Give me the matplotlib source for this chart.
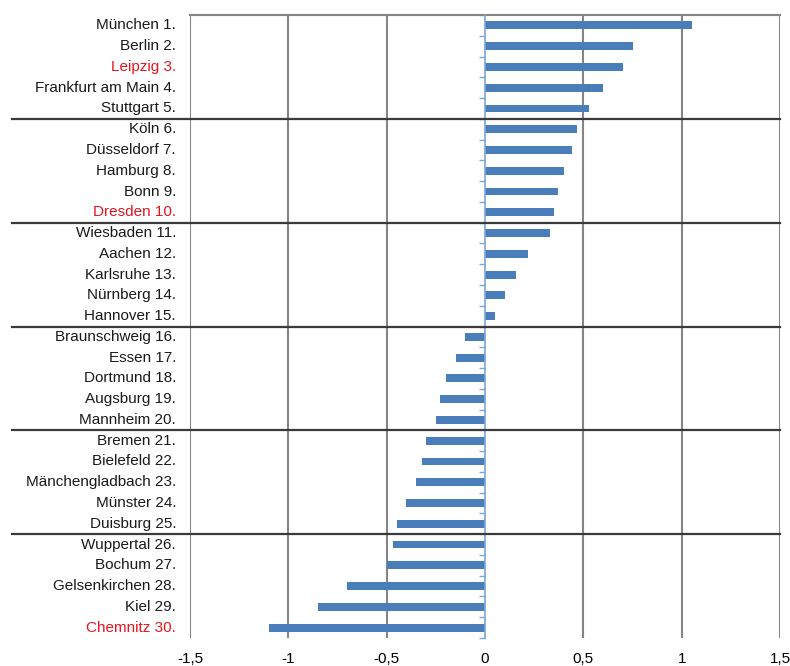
import numpy as np
import matplotlib
matplotlib.use("Agg")
import matplotlib.pyplot as plt

cities = ["München 1.", "Berlin 2.", "Leipzig 3.", "Frankfurt am Main 4.", "Stuttgart 5.",
          "Köln 6.", "Düsseldorf 7.", "Hamburg 8.", "Bonn 9.", "Dresden 10.",
          "Wiesbaden 11.", "Aachen 12.", "Karlsruhe 13.", "Nürnberg 14.", "Hannover 15.",
          "Braunschweig 16.", "Essen 17.", "Dortmund 18.", "Augsburg 19.", "Mannheim 20.",
          "Bremen 21.", "Bielefeld 22.", "Mänchengladbach 23.", "Münster 24.", "Duisburg 25.",
          "Wuppertal 26.", "Bochum 27.", "Gelsenkirchen 28.", "Kiel 29.", "Chemnitz 30."]
values = [1.05, 0.75, 0.70, 0.60, 0.53,
          0.47, 0.44, 0.40, 0.37, 0.35,
          0.33, 0.22, 0.16, 0.10, 0.05,
          -0.10, -0.15, -0.20, -0.23, -0.25,
          -0.30, -0.32, -0.35, -0.40, -0.45,
          -0.47, -0.50, -0.70, -0.85, -1.10]
highlight = ["Leipzig 3.", "Dresden 10.", "Chemnitz 30."]
xticks = [-1.5, -1.0, -0.5, 0.0, 0.5, 1.0, 1.5]
xtick_labels = ["-1,5", "-1", "-0,5", "0", "0,5", "1", "1,5"]

plt.rcParams['font.family'] = ['Liberation Sans', 'DejaVu Sans']

W, H = 790, 666
fig = plt.figure(figsize=(W / 100, H / 100), dpi=100)
left, right, top, bottom = 190, 780, 15, 638
ax = fig.add_axes([left / W, 1 - bottom / H, (right - left) / W, (bottom - top) / H])

n = len(cities)
ypos = np.arange(n) + 0.5
ax.barh(ypos, values, height=0.38, color='#4a7ebb', zorder=3)

ax.set_xlim(-1.5, 1.5)
ax.set_ylim(n, 0)

# vertical gridlines
for x in xticks:
    if x != 0:
        ax.axvline(x, color='#858585', lw=1.5, zorder=1)

# category axis at zero
for s in ['top', 'right', 'bottom']:
    ax.spines[s].set_visible(False)
ax.spines['left'].set_position(('data', 0))
ax.spines['left'].set_color('#7aa6d8')
ax.spines['left'].set_linewidth(1.2)
ax.spines['left'].set_zorder(4)
ax.set_yticks(np.arange(0, n + 1))
ax.set_yticklabels([])
ax.tick_params(axis='y', direction='out', length=4, color='#7aa6d8', width=1)

ax.set_xticks(xticks)
ax.set_xticklabels(xtick_labels, fontsize=11)
ax.tick_params(axis='x', length=0, pad=10)

# top line
ax.plot([0, 1], [0, 0], transform=ax.get_yaxis_transform(), color='#858585', lw=1.5, clip_on=False, zorder=2)

# group separators
lab_x = (176 - left) / (right - left)
sep_x0 = (12 - left) / (right - left)
for k in range(5, n, 5):
    ax.plot([sep_x0, 1], [k, k], transform=ax.get_yaxis_transform(), color='#3a3a3a', lw=1.6,
            clip_on=False, zorder=5)

for name, y in zip(cities, ypos):
    ax.text(lab_x, y, name, transform=ax.get_yaxis_transform(), ha='right', va='center',
            fontsize=11, color='#e8141e' if name in highlight else '#1a1a1a')

fig.savefig('out.png', dpi=100)
